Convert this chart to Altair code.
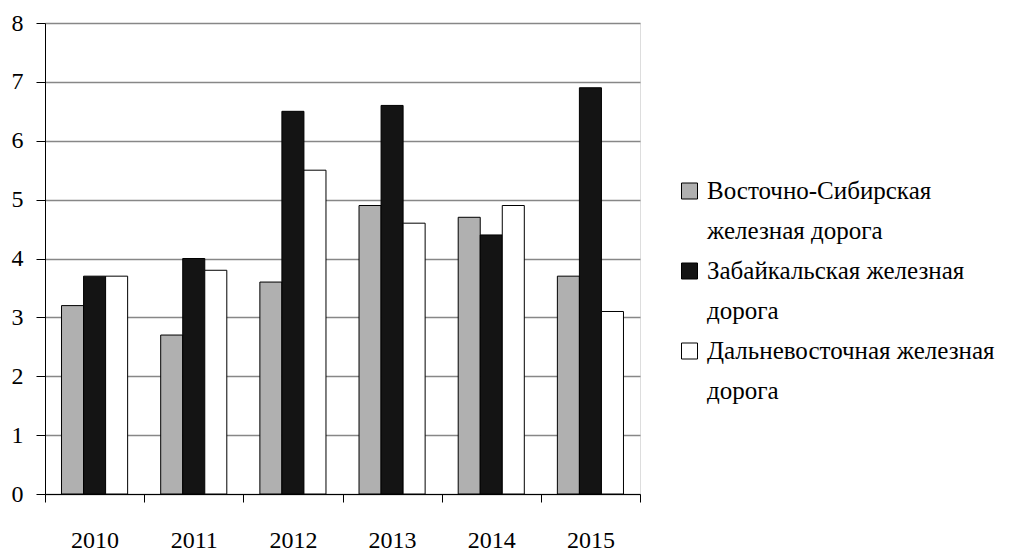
import altair as alt
import pandas as pd

years = ["2010", "2011", "2012", "2013", "2014", "2015"]
series = [
    "Восточно-Сибирская железная дорога",
    "Забайкальская железная дорога",
    "Дальневосточная железная дорога",
]
legend_labels = [
    "Восточно-Сибирская\nжелезная дорога",
    "Забайкальская железная\nдорога",
    "Дальневосточная железная\nдорога",
]
vs_values = [3.2, 2.7, 3.6, 4.9, 4.7, 3.7]
zab_values = [3.7, 4.0, 6.5, 6.6, 4.4, 6.9]
dv_values = [3.7, 3.8, 5.5, 4.6, 4.9, 3.1]
y_ticks = [0, 1, 2, 3, 4, 5, 6, 7, 8]

fills = ["#b0b0b0", "#141414", "#ffffff"]
FONT = "Liberation Serif, Times New Roman, DejaVu Serif, serif"

rows = []
for s, vals in zip(series, [vs_values, zab_values, dv_values]):
    for yr, v in zip(years, vals):
        rows.append({"year": yr, "series": s, "value": v})
df = pd.DataFrame(rows)

leg_df = pd.DataFrame({"series": series, "label": legend_labels})

color = alt.Color("series:N", scale=alt.Scale(domain=series, range=fills), legend=None)

bars = alt.Chart(df).mark_bar(stroke="black", strokeWidth=1).encode(
    x=alt.X(
        "year:N",
        sort=years,
        scale=alt.Scale(paddingInner=0, paddingOuter=0),
        axis=alt.Axis(
            title=None, labelAngle=0, tickBand="extent", tickSize=8,
            tickColor="black", domainColor="black", labelPadding=26,
            labelFontSize=24, labelColor="black", labelFont=FONT, grid=False,
        ),
    ),
    xOffset=alt.XOffset("series:N", sort=series,
                        scale=alt.Scale(paddingOuter=0.75, paddingInner=0)),
    y=alt.Y(
        "value:Q",
        scale=alt.Scale(domain=[0, 8], nice=False),
        axis=alt.Axis(
            title=None, values=y_ticks, tickSize=9, tickColor="black",
            domainColor="black", labelPadding=13, labelFontSize=24,
            labelColor="black", labelFont=FONT, grid=True,
            gridColor="#878787", gridWidth=1.3,
        ),
    ),
    color=color,
)

leg_y = alt.Y("series:N", sort=series,
              scale=alt.Scale(type="point", range=[176, 336], padding=0),
              axis=None)

leg_sq = alt.Chart(leg_df).mark_square(size=256, stroke="black", strokeWidth=1,
                                       opacity=1, yOffset=-8).encode(
    x=alt.value(644.5),
    y=leg_y,
    color=color,
)

leg_txt = alt.Chart(leg_df).mark_text(
    align="left", baseline="alphabetic", lineBreak="\n", lineHeight=40,
    fontSize=25, font=FONT, color="black",
).encode(
    x=alt.value(662),
    y=leg_y,
    text="label:N",
)

chart = alt.layer(bars, leg_sq, leg_txt).resolve_scale(
    y="independent"
).properties(
    width=595, height=471,
    autosize=alt.AutoSizeParams(type="none"),
    padding={"left": 45, "top": 23, "right": 374, "bottom": 57},
).configure_view(stroke=None).configure(font=FONT)

chart.save("out.html", embed_options={"renderer": "svg", "actions": False})
